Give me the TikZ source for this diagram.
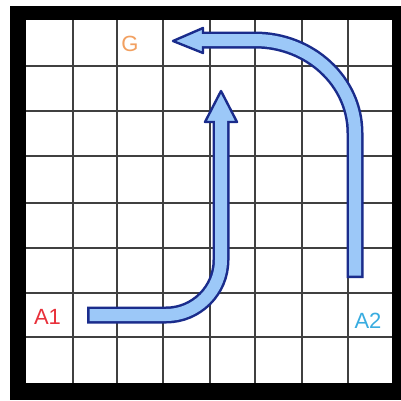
\documentclass[tikz,border=0pt]{standalone}
\usepackage{fontspec}
\setmainfont{Liberation Sans}
\usetikzlibrary{calc}
\definecolor{gridcol}{HTML}{404040}
\definecolor{arrfill}{HTML}{9CC8F8}
\definecolor{arrline}{HTML}{1A2C8C}
\definecolor{gcol}{HTML}{F2A060}
\definecolor{aonecol}{HTML}{E8303A}
\definecolor{atwocol}{HTML}{38ACE0}
\tikzset{
  gridline/.style={draw=gridcol, line width=2.8},
  shaftout/.style={draw=arrline, line width=17, line cap=butt},
  shaftin/.style={draw=arrfill, line width=12, line cap=butt},
  headbox/.style={fill=arrfill, draw=arrline, line width=2.4, line join=round},
  lab/.style={inner sep=0pt, font=\fontsize{22}{22}\selectfont}
}
\begin{document}
\begin{tikzpicture}[x=1pt,y=-1pt]
\useasboundingbox (0,0) rectangle (401,400);
\fill[white] (0,0) rectangle (401,400);
\fill[black] (10,6) rectangle (401,400);
\fill[white] (26,20) rectangle (392,383);
\foreach \x in {73,117,163,210,255,302,348} \draw[gridline] (\x,20) -- (\x,383);
\foreach \y in {66,111,156,203,248,293,337} \draw[gridline] (26,\y) -- (392,\y);
% arrow 1
\coordinate (a1s) at (87,315);
\coordinate (a1c) at (221,315);
\coordinate (a1b) at (221,122);
\coordinate (a1t) at (221,91);
\draw[shaftout, rounded corners=55] (a1s) -- (a1c) -- (a1b);
\draw[headbox] (205,122) -- (a1t) -- (237,122) -- cycle;
\draw[shaftin, rounded corners=55] ($(a1s)+(2.5,0)$) -- (a1c) -- ($(a1b)+(0,-2)$);
% arrow 2
\coordinate (a2s) at (355,278);
\coordinate (a2v) at (355,133);
\coordinate (a2h) at (255,40);
\coordinate (a2b) at (203,40);
\coordinate (a2t) at (173,41);
\draw[shaftout] (a2s) -- (a2v) .. controls (355,81.7) and (310.2,40) .. (a2h) -- (a2b);
\draw[headbox] (203,28) -- (a2t) -- (203,53) -- cycle;
\draw[shaftin] ($(a2s)+(0,-2.5)$) -- (a2v) .. controls (355,81.7) and (310.2,40) .. (a2h) -- ($(a2b)+(-2,0)$);
% labels
\node[lab, text=gcol] (G) at (130,44) {G};
\node[lab, text=aonecol] (A1) at (47.5,317) {A1};
\node[lab, text=atwocol] (A2) at (368,321) {A2};
\end{tikzpicture}
\end{document}
